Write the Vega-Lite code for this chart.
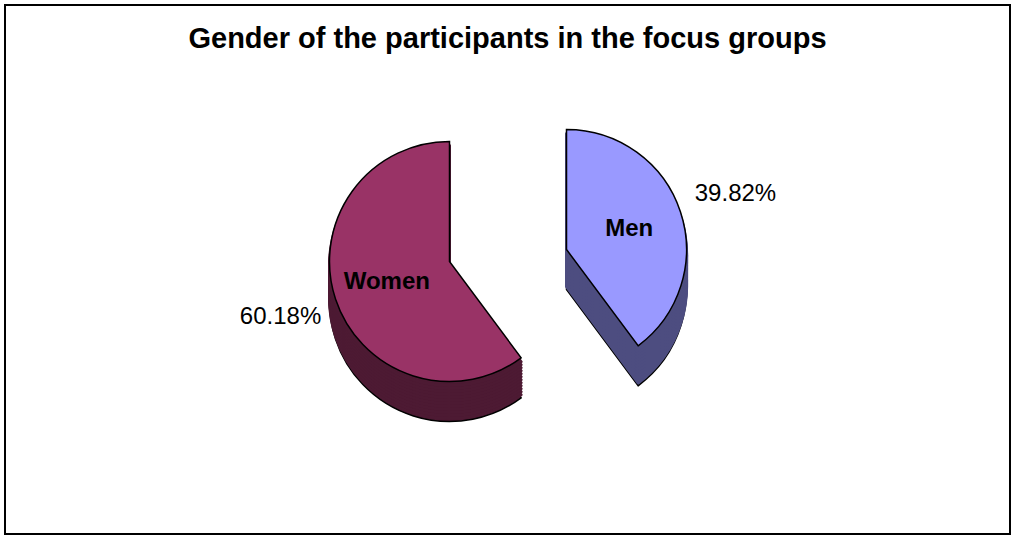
{
  "$schema": "https://vega.github.io/schema/vega-lite/v6.json",
  "width": 1015,
  "height": 539,
  "autosize": {"type": "fit", "contains": "padding"},
  "padding": 4,
  "background": "white",
  "config": {"view": {"stroke": null}, "font": "Liberation Sans"},
  "title": {"text": "Gender of the participants in the focus groups", "font": "Liberation Sans", "fontSize": 29, "fontWeight": "bold", "color": "black", "anchor": "middle", "offset": -50},
  "data": {"values": [
    {"gender": "Men", "share": 0.3982},
    {"gender": "Women", "share": 0.6018}
  ]},
  "layer": [
    {
      "transform": [{"filter": "datum.gender === 'Men'"}],
      "mark": {"type": "rect", "fill": null, "stroke": "black", "strokeWidth": 2},
      "encoding": {
        "x": {"value": 0}, "x2": {"value": "width"},
        "y": {"value": 0}, "y2": {"value": "height"}
      }
    },
    {
      "encoding": {
        "theta": {"field": "share", "type": "quantitative", "stack": true},
        "order": {"field": "gender", "sort": "ascending"},
        "detail": {"field": "gender", "type": "nominal"},
        "opacity": {"condition": {"test": "datum.gender === 'Men'", "value": 1}, "value": 0}
      },
      "layer": [
        {"mark": {"type": "arc", "radius": 120, "fill": "#4d4d80", "stroke": "black", "strokeWidth": 1.5, "xOffset": 59, "yOffset": 20}},
        {"mark": {"type": "arc", "radius": 120, "fill": "#4d4d80", "stroke": "#4d4d80", "strokeWidth": 3, "strokeJoin": "round", "xOffset": 59, "yOffset": 17}},
        {"mark": {"type": "arc", "radius": 120, "fill": "#4d4d80", "stroke": "#4d4d80", "strokeWidth": 3, "strokeJoin": "round", "xOffset": 59, "yOffset": 14}},
        {"mark": {"type": "arc", "radius": 120, "fill": "#4d4d80", "stroke": "#4d4d80", "strokeWidth": 3, "strokeJoin": "round", "xOffset": 59, "yOffset": 11}},
        {"mark": {"type": "arc", "radius": 120, "fill": "#4d4d80", "stroke": "#4d4d80", "strokeWidth": 3, "strokeJoin": "round", "xOffset": 59, "yOffset": 8}},
        {"mark": {"type": "arc", "radius": 120, "fill": "#4d4d80", "stroke": "#4d4d80", "strokeWidth": 3, "strokeJoin": "round", "xOffset": 59, "yOffset": 5}},
        {"mark": {"type": "arc", "radius": 120, "fill": "#4d4d80", "stroke": "#4d4d80", "strokeWidth": 3, "strokeJoin": "round", "xOffset": 59, "yOffset": 2}},
        {"mark": {"type": "arc", "radius": 120, "fill": "#4d4d80", "stroke": "#4d4d80", "strokeWidth": 3, "strokeJoin": "round", "xOffset": 59, "yOffset": -1}},
        {"mark": {"type": "arc", "radius": 120, "fill": "#4d4d80", "stroke": "#4d4d80", "strokeWidth": 3, "strokeJoin": "round", "xOffset": 59, "yOffset": -4}},
        {"mark": {"type": "arc", "radius": 120, "fill": "#4d4d80", "stroke": "#4d4d80", "strokeWidth": 3, "strokeJoin": "round", "xOffset": 59, "yOffset": -7}},
        {"mark": {"type": "arc", "radius": 120, "fill": "#4d4d80", "stroke": "#4d4d80", "strokeWidth": 3, "strokeJoin": "round", "xOffset": 59, "yOffset": -10}},
        {"mark": {"type": "arc", "radius": 120, "fill": "#4d4d80", "stroke": "#4d4d80", "strokeWidth": 3, "strokeJoin": "round", "xOffset": 59, "yOffset": -13}},
        {"mark": {"type": "arc", "radius": 120, "fill": "#4d4d80", "stroke": "#4d4d80", "strokeWidth": 3, "strokeJoin": "round", "xOffset": 59, "yOffset": -16}},
        {"mark": {"type": "arc", "radius": 120, "fill": "#9999ff", "stroke": "black", "strokeWidth": 1.5, "xOffset": 59, "yOffset": -20}},
        {"mark": {"type": "text", "radius": 66, "font": "Liberation Sans", "fontSize": 24, "fontWeight": "bold", "color": "black", "xOffset": 59, "yOffset": -20},
         "encoding": {"text": {"field": "gender", "type": "nominal"}}},
        {"mark": {"type": "text", "radius": 178, "font": "Liberation Sans", "fontSize": 24, "color": "black", "xOffset": 59, "yOffset": -20},
         "encoding": {"text": {"field": "share", "type": "quantitative", "format": ".2%"}}}
      ]
    },
    {
      "encoding": {
        "theta": {"field": "share", "type": "quantitative", "stack": true},
        "order": {"field": "gender", "sort": "ascending"},
        "detail": {"field": "gender", "type": "nominal"},
        "opacity": {"condition": {"test": "datum.gender === 'Women'", "value": 1}, "value": 0}
      },
      "layer": [
        {"mark": {"type": "arc", "radius": 120, "fill": "#4d1a33", "stroke": "black", "strokeWidth": 1.5, "xOffset": -58, "yOffset": 32}},
        {"mark": {"type": "arc", "radius": 120, "fill": "#4d1a33", "stroke": "#4d1a33", "strokeWidth": 3, "strokeJoin": "round", "xOffset": -58, "yOffset": 29}},
        {"mark": {"type": "arc", "radius": 120, "fill": "#4d1a33", "stroke": "#4d1a33", "strokeWidth": 3, "strokeJoin": "round", "xOffset": -58, "yOffset": 26}},
        {"mark": {"type": "arc", "radius": 120, "fill": "#4d1a33", "stroke": "#4d1a33", "strokeWidth": 3, "strokeJoin": "round", "xOffset": -58, "yOffset": 23}},
        {"mark": {"type": "arc", "radius": 120, "fill": "#4d1a33", "stroke": "#4d1a33", "strokeWidth": 3, "strokeJoin": "round", "xOffset": -58, "yOffset": 20}},
        {"mark": {"type": "arc", "radius": 120, "fill": "#4d1a33", "stroke": "#4d1a33", "strokeWidth": 3, "strokeJoin": "round", "xOffset": -58, "yOffset": 17}},
        {"mark": {"type": "arc", "radius": 120, "fill": "#4d1a33", "stroke": "#4d1a33", "strokeWidth": 3, "strokeJoin": "round", "xOffset": -58, "yOffset": 14}},
        {"mark": {"type": "arc", "radius": 120, "fill": "#4d1a33", "stroke": "#4d1a33", "strokeWidth": 3, "strokeJoin": "round", "xOffset": -58, "yOffset": 11}},
        {"mark": {"type": "arc", "radius": 120, "fill": "#4d1a33", "stroke": "#4d1a33", "strokeWidth": 3, "strokeJoin": "round", "xOffset": -58, "yOffset": 8}},
        {"mark": {"type": "arc", "radius": 120, "fill": "#4d1a33", "stroke": "#4d1a33", "strokeWidth": 3, "strokeJoin": "round", "xOffset": -58, "yOffset": 5}},
        {"mark": {"type": "arc", "radius": 120, "fill": "#4d1a33", "stroke": "#4d1a33", "strokeWidth": 3, "strokeJoin": "round", "xOffset": -58, "yOffset": 2}},
        {"mark": {"type": "arc", "radius": 120, "fill": "#4d1a33", "stroke": "#4d1a33", "strokeWidth": 3, "strokeJoin": "round", "xOffset": -58, "yOffset": -1}},
        {"mark": {"type": "arc", "radius": 120, "fill": "#4d1a33", "stroke": "#4d1a33", "strokeWidth": 3, "strokeJoin": "round", "xOffset": -58, "yOffset": -4}},
        {"mark": {"type": "arc", "radius": 120, "fill": "#993366", "stroke": "black", "strokeWidth": 1.5, "xOffset": -58, "yOffset": -8}},
        {"mark": {"type": "text", "radius": 66, "font": "Liberation Sans", "fontSize": 24, "fontWeight": "bold", "color": "black", "xOffset": -58, "yOffset": -8},
         "encoding": {"text": {"field": "gender", "type": "nominal"}}},
        {"mark": {"type": "text", "radius": 178, "font": "Liberation Sans", "fontSize": 24, "color": "black", "xOffset": -58, "yOffset": -8},
         "encoding": {"text": {"field": "share", "type": "quantitative", "format": ".2%"}}}
      ]
    }
  ]
}
